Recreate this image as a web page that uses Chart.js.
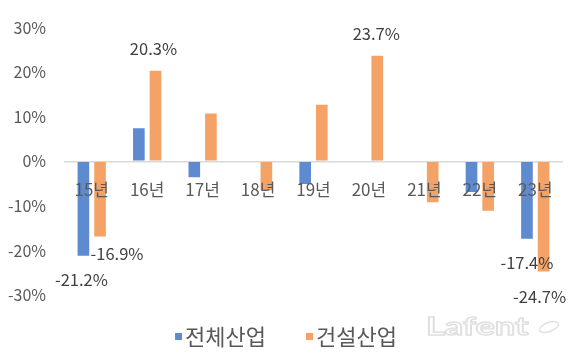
<!DOCTYPE html>
<html><head><meta charset="utf-8">
<script src="https://cdn.jsdelivr.net/npm/chart.js@4.4.1/dist/chart.umd.min.js"></script>
<style>html,body{margin:0;padding:0;background:#fff}#wrap{width:580px;height:363px;position:relative}</style>
</head><body><div id="wrap"><canvas id="c" width="580" height="363"></canvas></div>
<script>
const categories = ['15년','16년','17년','18년','19년','20년','21년','22년','23년'];
const seriesNames = ['전체산업','건설산업'];
const allIndustry = [-21.2, 7.4, -3.6, 0, -5.1, 0, 0, -6.9, -17.4];
const construction = [-16.9, 20.3, 10.7, -6.5, 12.7, 23.7, -9.2, -11.1, -24.7];
const yTicks = [-30, -20, -10, 0, 10, 20, 30];
const labeledAll = [0, 8];
const labeledConstruction = [0, 1, 5, 8];

const FONT = '"Noto Sans CJK KR", "Noto Sans", sans-serif';
const COLORS = ['#5e8ad0', '#f4a266'];

function legendSwatch(color) {
  const c = document.createElement('canvas');
  c.width = 24; c.height = 8;
  const g = c.getContext('2d');
  g.fillStyle = color;
  g.fillRect(17, 0, 7, 7);
  return c;
}

const labelPlugin = {
  id: 'vlabels',
  afterDatasetsDraw(chart, args, opts) {
    const ctx = chart.ctx;
    ctx.save();
    ctx.font = '16.5px ' + FONT;
    ctx.fillStyle = '#404040';
    ctx.textAlign = 'center';
    ctx.textBaseline = 'middle';
    chart.data.datasets.forEach((ds, di) => {
      const meta = chart.getDatasetMeta(di);
      ds.labeled.forEach(i => {
        const el = meta.data[i];
        const v = ds.data[i];
        const s = opts.shift[di + '-' + i] || [0, 0];
        const y = el.y + (v < 0 ? 24 : -22) + s[1];
        ctx.fillText(v.toFixed(1) + '%', el.x + s[0], y);
      });
    });
    ctx.restore();
  }
};

const watermark = {
  id: 'wm',
  afterDraw(chart) {
    const ctx = chart.ctx;
    ctx.save();
    ctx.strokeStyle = '#e0e0e0';
    ctx.lineWidth = 1.4;
    ctx.translate(426, 327);
    ctx.scale(1.45, 1);
    ctx.font = 'bold 25px Lato, sans-serif';
    ctx.textBaseline = 'middle';
    ctx.textAlign = 'left';
    ctx.strokeText('Lafent', 0, 0);
    ctx.restore();
    ctx.save();
    ctx.strokeStyle = '#e0e0e0';
    ctx.lineWidth = 1.4;
    ctx.beginPath();
    ctx.ellipse(549, 327, 10, 4.5, -0.35, 0, Math.PI * 2);
    ctx.stroke();
    ctx.restore();
  }
};

new Chart(document.getElementById('c'), {
  type: 'bar',
  data: {
    labels: categories,
    datasets: [
      { label: seriesNames[0], data: allIndustry, backgroundColor: COLORS[0], labeled: labeledAll,
        barPercentage: 0.7, categoryPercentage: 0.6 },
      { label: seriesNames[1], data: construction, backgroundColor: COLORS[1], labeled: labeledConstruction,
        barPercentage: 0.7, categoryPercentage: 0.6 }
    ]
  },
  options: {
    responsive: false,
    animation: false,
    devicePixelRatio: 1,
    layout: { padding: { top: 25, right: 17, left: 0, bottom: 5 } },
    scales: {
      x: {
        position: { y: 0 },
        grid: { display: false, drawTicks: false },
        border: { display: false },
        ticks: { z: 1, color: '#595959', font: { size: 17, family: FONT }, padding: 18 }
      },
      y: {
        min: -30, max: 30,
        afterBuildTicks: s => { s.ticks = yTicks.map(v => ({ value: v })); },
        afterFit: s => { s.width = 64; },
        grid: { color: c => (c.tick && c.tick.value === 0) ? '#d9d9d9' : 'rgba(0,0,0,0)', drawTicks: false, lineWidth: 1.5 },
        border: { display: false },
        ticks: { color: '#595959', font: { size: 16, family: FONT }, padding: 18, callback: v => v + '%' }
      }
    },
    plugins: {
      legend: {
        position: 'bottom',
        labels: {
          color: '#595959', font: { size: 22, family: FONT }, usePointStyle: true, pointStyleWidth: 8,
          boxHeight: 8, padding: 31,
          generateLabels: chart => Chart.defaults.plugins.legend.labels.generateLabels(chart).map((l, i) => {
            l.pointStyle = legendSwatch(COLORS[i]);
            return l;
          })
        }
      },
      tooltip: { enabled: false },
      vlabels: { shift: { '0-0': [-2, 0], '1-0': [17, -7], '1-1': [-2, 0], '1-5': [-1, 0], '0-8': [0, 0], '1-8': [-4, 1] } }
    }
  },
  plugins: [labelPlugin, watermark]
});
</script>
</body></html>
